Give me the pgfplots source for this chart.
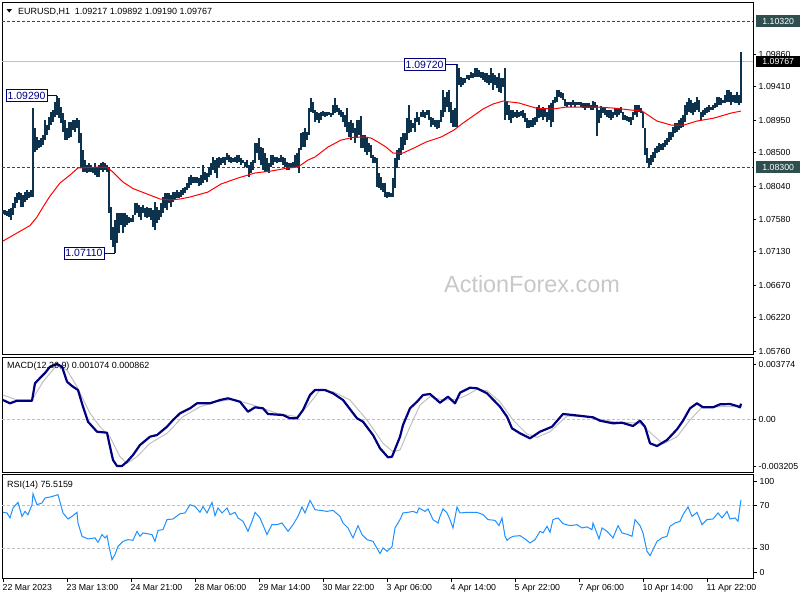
\documentclass[border=0pt]{standalone}
\usepackage{pgfplots}
\pgfplotsset{compat=1.18}
\usepackage{pgfplotstable}
\usepackage{fontspec}
\setmainfont{Liberation Sans}

\definecolor{barcol}{RGB}{12,50,78}
\definecolor{slate}{RGB}{47,79,79}
\definecolor{navyc}{RGB}{0,0,128}
\definecolor{silverc}{RGB}{192,192,192}
\definecolor{rsicol}{RGB}{30,144,255}
\definecolor{wmark}{RGB}{200,200,200}

% EURUSD H1 bars: high and low of each hour, oldest first
\pgfplotstableread{
hi lo
1.07709 1.07653
1.07709 1.07640
1.07695 1.07626
1.07722 1.07612
1.07736 1.07570
1.07805 1.07640
1.07888 1.07736
1.07943 1.07805
1.07957 1.07847
1.07943 1.07750
1.07916 1.07750
1.07957 1.07819
1.07985 1.07847
1.07957 1.07874
1.07985 1.07888
1.09117 1.07888
1.08841 1.08510
1.08717 1.08537
1.08675 1.08565
1.08703 1.08579
1.08745 1.08606
1.08952 1.08675
1.08883 1.08745
1.08993 1.08814
1.09062 1.08883
1.09090 1.08924
1.09200 1.08993
1.09290 1.09021
1.09256 1.08979
1.09131 1.08910
1.09048 1.08786
1.08952 1.08675
1.08841 1.08675
1.08924 1.08703
1.08924 1.08717
1.08952 1.08814
1.08952 1.08786
1.08979 1.08841
1.08952 1.08634
1.08772 1.08289
1.08537 1.08233
1.08399 1.08233
1.08330 1.08220
1.08358 1.08233
1.08330 1.08233
1.08303 1.08220
1.08358 1.08192
1.08303 1.08164
1.08330 1.08164
1.08358 1.08261
1.08372 1.08233
1.08358 1.08261
1.08330 1.08233
1.08303 1.07667
1.07750 1.07294
1.07474 1.07197
1.07570 1.07110
1.07667 1.07253
1.07667 1.07391
1.07667 1.07501
1.07667 1.07391
1.07667 1.07474
1.07640 1.07501
1.07612 1.07529
1.07598 1.07543
1.07640 1.07543
1.07805 1.07640
1.07805 1.07667
1.07778 1.07612
1.07750 1.07570
1.07778 1.07667
1.07736 1.07612
1.07750 1.07598
1.07736 1.07612
1.07736 1.07570
1.07709 1.07474
1.07819 1.07432
1.07750 1.07529
1.07709 1.07570
1.07805 1.07612
1.07888 1.07667
1.07943 1.07736
1.07943 1.07709
1.07943 1.07805
1.07916 1.07750
1.07957 1.07819
1.07957 1.07847
1.07985 1.07874
1.07957 1.07874
1.07985 1.07888
1.08012 1.07916
1.08026 1.07943
1.08082 1.07985
1.08164 1.08012
1.08192 1.08054
1.08164 1.08082
1.08164 1.08082
1.08164 1.08082
1.08151 1.08040
1.08192 1.08054
1.08330 1.08082
1.08233 1.08123
1.08220 1.08095
1.08303 1.08164
1.08358 1.08192
1.08441 1.08261
1.08399 1.08220
1.08427 1.08151
1.08441 1.08303
1.08427 1.08330
1.08441 1.08358
1.08441 1.08330
1.08496 1.08399
1.08468 1.08372
1.08441 1.08358
1.08427 1.08372
1.08441 1.08372
1.08468 1.08358
1.08468 1.08372
1.08427 1.08330
1.08399 1.08358
1.08372 1.08303
1.08399 1.08289
1.08330 1.08164
1.08372 1.08220
1.08399 1.08261
1.08634 1.08358
1.08634 1.08496
1.08703 1.08399
1.08579 1.08330
1.08565 1.08261
1.08496 1.08233
1.08427 1.08233
1.08358 1.08220
1.08468 1.08303
1.08468 1.08330
1.08441 1.08372
1.08441 1.08358
1.08427 1.08372
1.08468 1.08372
1.08441 1.08330
1.08427 1.08303
1.08372 1.08261
1.08358 1.08261
1.08358 1.08289
1.08372 1.08289
1.08468 1.08303
1.08496 1.08303
1.08565 1.08220
1.08772 1.08537
1.08786 1.08579
1.08841 1.08579
1.08786 1.08675
1.09117 1.08745
1.09256 1.09062
1.09200 1.09048
1.09090 1.08924
1.09062 1.08952
1.09048 1.08910
1.09062 1.08952
1.09076 1.09007
1.09062 1.08993
1.09062 1.09007
1.09062 1.09021
1.09048 1.08993
1.09159 1.09021
1.09256 1.09048
1.09159 1.09062
1.09117 1.09021
1.09090 1.08993
1.09062 1.08924
1.09021 1.08855
1.09117 1.08786
1.08924 1.08717
1.08952 1.08675
1.08910 1.08772
1.08841 1.08634
1.08952 1.08703
1.08952 1.08745
1.09007 1.08565
1.08745 1.08565
1.08745 1.08510
1.08717 1.08468
1.08634 1.08510
1.08606 1.08427
1.08468 1.08358
1.08441 1.08358
1.08427 1.08026
1.08220 1.08012
1.08164 1.07985
1.08082 1.07957
1.08082 1.07888
1.07957 1.07874
1.07957 1.07888
1.07943 1.07888
1.08151 1.07888
1.08427 1.08012
1.08537 1.08289
1.08565 1.08399
1.08717 1.08468
1.08772 1.08537
1.08772 1.08606
1.08979 1.08675
1.09159 1.08772
1.08952 1.08786
1.08910 1.08841
1.08979 1.08786
1.09062 1.08924
1.08993 1.08883
1.09062 1.08993
1.09090 1.08993
1.09062 1.08979
1.09090 1.09021
1.09090 1.08952
1.08993 1.08855
1.08979 1.08883
1.08952 1.08855
1.08952 1.08827
1.08952 1.08841
1.09090 1.08924
1.09366 1.08993
1.09269 1.09062
1.09339 1.09131
1.09366 1.09062
1.09200 1.08910
1.09090 1.08855
1.09117 1.08855
1.09720 1.08855
1.09670 1.09435
1.09546 1.09408
1.09532 1.09435
1.09532 1.09463
1.09574 1.09518
1.09574 1.09504
1.09615 1.09532
1.09601 1.09532
1.09670 1.09546
1.09670 1.09546
1.09643 1.09546
1.09615 1.09532
1.09615 1.09504
1.09601 1.09477
1.09601 1.09463
1.09574 1.09435
1.09670 1.09463
1.09601 1.09366
1.09574 1.09435
1.09546 1.09394
1.09601 1.09339
1.09532 1.09325
1.09532 1.09408
1.09670 1.08952
1.09200 1.09021
1.09159 1.08952
1.09090 1.08910
1.09090 1.08979
1.09062 1.08993
1.09090 1.08979
1.09062 1.08993
1.09076 1.09007
1.09090 1.08979
1.09048 1.08924
1.08979 1.08841
1.08952 1.08841
1.08952 1.08855
1.08979 1.08855
1.08993 1.08883
1.09131 1.08924
1.09159 1.08979
1.09117 1.08993
1.09131 1.08952
1.09117 1.08993
1.09062 1.08924
1.09159 1.08952
1.09187 1.08855
1.09228 1.08924
1.09269 1.09187
1.09366 1.09200
1.09366 1.09269
1.09339 1.09256
1.09325 1.09228
1.09242 1.09145
1.09200 1.09131
1.09200 1.09159
1.09200 1.09131
1.09228 1.09159
1.09200 1.09131
1.09200 1.09159
1.09200 1.09159
1.09200 1.09131
1.09187 1.09117
1.09187 1.09090
1.09187 1.09117
1.09187 1.09117
1.09159 1.09090
1.09214 1.09090
1.09200 1.09117
1.09159 1.08731
1.09090 1.08910
1.09145 1.08979
1.09131 1.09048
1.09117 1.09021
1.09090 1.08993
1.09090 1.08979
1.09090 1.08952
1.09062 1.08979
1.09117 1.09021
1.09117 1.08993
1.09117 1.09021
1.09131 1.09048
1.09062 1.08952
1.09021 1.08952
1.09007 1.08938
1.08993 1.08924
1.08993 1.08883
1.09062 1.08952
1.09159 1.09021
1.09159 1.08993
1.09159 1.09062
1.09117 1.09048
1.09062 1.08841
1.08841 1.08468
1.08565 1.08358
1.08427 1.08289
1.08468 1.08330
1.08510 1.08372
1.08565 1.08427
1.08593 1.08496
1.08634 1.08510
1.08620 1.08537
1.08634 1.08537
1.08675 1.08579
1.08703 1.08606
1.08786 1.08648
1.08786 1.08675
1.08855 1.08717
1.08910 1.08772
1.08910 1.08786
1.08952 1.08814
1.08979 1.08841
1.09021 1.08855
1.09159 1.08924
1.09200 1.09021
1.09256 1.09062
1.09228 1.09048
1.09187 1.09021
1.09200 1.09062
1.09269 1.09090
1.09228 1.09062
1.09062 1.08952
1.09090 1.08993
1.09117 1.09021
1.09131 1.09048
1.09159 1.09062
1.09131 1.09090
1.09159 1.09090
1.09187 1.09117
1.09269 1.09131
1.09269 1.09159
1.09256 1.09159
1.09228 1.09187
1.09297 1.09187
1.09366 1.09200
1.09366 1.09200
1.09339 1.09159
1.09297 1.09200
1.09297 1.09187
1.09339 1.09187
1.09297 1.09159
1.09892 1.09190
}\bars

\begin{document}
\begin{tikzpicture}[font=\fontsize{9}{10.5}\selectfont]
\useasboundingbox (0,0) rectangle (800bp,-600bp);
\pgfplotsset{panel/.style={
    scale only axis, width=751bp, xmin=-0.5, xmax=375,
    axis line style={black, line width=0.9bp},
    tick align=outside, major tick length=3bp,
    tick style={black, line width=0.8bp},
    ytick pos=right, xtick=\empty, scaled y ticks=false,
    tick label style={font=\fontsize{8.8}{10}\selectfont},
    yticklabel style={inner sep=2.5bp},
    clip=true}}

% price panel
\begin{axis}[panel, at={(2bp,-2bp)}, anchor=north west, height=352bp,
    ymin=1.05719, ymax=1.10583,
    ytick={1.0986,1.0941,1.0895,1.0850,1.0804,1.0758,1.0713,1.0667,1.0622,1.0576},
    yticklabels={1.09860,1.09410,1.08950,1.08500,1.08040,1.07580,1.07130,1.06670,1.06220,1.05760}]
  \node[text=wmark, font=\fontsize{23.5}{26}\selectfont] at (axis cs:264.5,1.06685) {ActionForex.com};
  \draw[slate, line width=0.8bp, dash pattern=on 3bp off 2bp] (axis cs:-0.5,1.1032) -- (axis cs:375,1.1032);
  \draw[slate, line width=0.8bp, dash pattern=on 3bp off 2bp] (axis cs:-0.5,1.0830) -- (axis cs:375,1.0830);
  \draw[silverc, line width=0.8bp] (axis cs:-0.5,1.09767) -- (axis cs:375,1.09767);
  % each bar is a vertical stroke from the low up to the high
  \addplot[draw=none, mark=none,
      error bars/.cd, y dir=plus, y explicit, error mark=none,
      error bar style={draw=barcol, line width=1.05bp}]
    table[x expr=\coordindex, y=lo, y error plus expr=\thisrow{hi}-\thisrow{lo}] {\bars};
  % moving average
  \addplot[red, line width=1bp] coordinates {
    (0,1.07280) (7,1.07391) (13.5,1.07494) (17,1.07612) (20,1.07750) (23.5,1.07902)
    (28.5,1.08082) (33.5,1.08192) (37.5,1.08289) (48.5,1.08303) (52,1.08296) (55,1.08233)
    (60,1.08095) (65,1.08005) (72,1.07930) (78.5,1.07861) (83.5,1.07847) (88.5,1.07861)
    (93.5,1.07888) (102.5,1.07957) (109,1.08068) (117.5,1.08151) (126,1.08220) (134,1.08247)
    (142.5,1.08289) (147.5,1.08303) (152.5,1.08399) (156,1.08441) (162.5,1.08579) (169,1.08675)
    (176,1.08717) (181,1.08717) (184,1.08703) (187.5,1.08648) (191.5,1.08579) (195,1.08496)
    (200,1.08496) (206.5,1.08579) (211.5,1.08648) (219,1.08717) (225.5,1.08814) (230,1.08910)
    (235,1.09007) (240,1.09104) (245,1.09173) (250,1.09214) (258,1.09187) (266.5,1.09117)
    (275,1.09104) (281.5,1.09131) (297,1.09131) (305.5,1.09117) (314,1.09090) (319.5,1.09076)
    (324,1.08993) (327,1.08938) (334,1.08883) (340.5,1.08883) (347,1.08938) (355.5,1.08979)
    (364,1.09048) (369,1.09076)};
  % swing high / low tags
  \draw[navyc, line width=0.8bp] (axis cs:22,1.0929) -- (axis cs:27,1.0929);
  \node[draw=navyc, fill=white, text=navyc, anchor=east, inner sep=1.3bp, minimum height=12bp,
        font=\fontsize{10.5}{12}\selectfont] at (axis cs:22,1.0929) {1.09290};
  \draw[navyc, line width=0.8bp] (axis cs:50.5,1.0711) -- (axis cs:56,1.0711);
  \node[draw=navyc, fill=white, text=navyc, anchor=east, inner sep=1.3bp, minimum height=12bp,
        font=\fontsize{10.5}{12}\selectfont] at (axis cs:50.5,1.0711) {1.07110};
  \draw[navyc, line width=0.8bp] (axis cs:221,1.0972) -- (axis cs:227,1.0972);
  \node[draw=navyc, fill=white, text=navyc, anchor=east, inner sep=1.3bp, minimum height=12bp,
        font=\fontsize{10.5}{12}\selectfont] at (axis cs:221,1.0972) {1.09720};
\end{axis}

% MACD panel
\begin{axis}[panel, at={(2bp,-357bp)}, anchor=north west, height=115bp,
    ymin=-0.003618, ymax=0.004278,
    ytick={0.003774,0,-0.003205}, yticklabels={0.003774,0.00,-0.003205}]
  \draw[silverc, line width=0.8bp, dash pattern=on 3bp off 2bp] (axis cs:-0.5,0) -- (axis cs:375,0);
  \addplot[silverc, line width=1bp] coordinates {
    (0,0.001668) (7,0.001325) (14.5,0.001325) (20,0.002582) (27,0.003728) (32,0.003385)
    (37,0.002238) (43.5,0.000412) (48.5,-0.000508) (53.5,-0.001195) (58.5,-0.002568) (62,-0.003021)
    (67,-0.002568) (73.5,-0.001648) (82,-0.000961) (90,0.000179) (98.5,0.000865) (107,0.001208)
    (115,0.001373) (125,0.000982) (137,0.000412) (147,0.000179) (152,0.000865) (158.5,0.002012)
    (165,0.001895) (173.5,0.001325) (182,-0.000048) (190,-0.001648) (195,-0.002225) (198.5,-0.002108)
    (203.5,-0.000508) (208.5,0.000982) (213.5,0.001552) (220,0.001325) (227,0.001373) (232,0.001668)
    (237,0.002060) (242,0.001964) (248.5,0.001208) (255,-0.000048) (262,-0.001009) (267,-0.001236)
    (273.5,-0.000851) (282,0.000227) (292,0.000179) (305,-0.000165) (318.5,-0.000275) (325,-0.001078)
    (330,-0.001696) (337,-0.001195) (343.5,-0.000048) (349.5,0.000824) (358.5,0.000865) (369,0.000862)};
  \addplot[navyc, line width=2.2bp, line join=round] coordinates {
    (0,0.001325) (3.5,0.001099) (7,0.001277) (14.5,0.001277) (16,0.002472) (18.5,0.002836)
    (21,0.003179) (23.5,0.003612) (27,0.003797) (29.5,0.003612) (32,0.002582) (34.5,0.002286)
    (37.5,0.002012) (40,0.000865) (42.5,-0.000165) (47,-0.000851) (52,-0.000920) (53.5,-0.001881)
    (55,-0.002794) (57,-0.003206) (59.5,-0.003206) (62,-0.002911) (65,-0.002451) (68.5,-0.001765)
    (73.5,-0.001195) (77,-0.001078) (82,-0.000508) (85,-0.000048) (88.5,0.000412) (93.5,0.000755)
    (97,0.001099) (103.5,0.001099) (108.5,0.001325) (112.5,0.001442) (118.5,0.001208) (122.5,0.000522)
    (126,0.000824) (130,0.000755) (132.5,0.000364) (140,0.000295) (143.5,0.000069) (147,0.000069)
    (150,0.000639) (153.5,0.001668) (156,0.002012) (161,0.002012) (165,0.001785) (170,0.001325)
    (177,0.000069) (180,-0.000165) (185,-0.001078) (188.5,-0.001991) (192.5,-0.002609) (194.5,-0.002568)
    (198.5,-0.001195) (200,-0.000391) (203.5,0.000755) (207,0.001208) (210,0.001668) (213.5,0.001737)
    (218.5,0.001140) (222.5,0.001552) (226,0.001099) (228.5,0.001826) (233.5,0.002170) (237,0.002128)
    (242,0.001785) (248.5,0.000865) (252,0.000179) (254.5,-0.000618) (258.5,-0.000961) (263.5,-0.001305)
    (268.5,-0.000851) (274.5,-0.000508) (280,0.000364) (285,0.000295) (295,0.000137) (298.5,-0.000096)
    (305,-0.000275) (309.5,-0.000233) (315,-0.000460) (318.5,-0.000096) (321,-0.000508) (323.5,-0.001648)
    (327,-0.001833) (332,-0.001421) (337,-0.000687) (340,-0.000096) (343.5,0.000755) (347,0.001099)
    (350,0.000824) (355,0.000824) (358.5,0.001030) (363.5,0.001050) (367,0.000913) (368.5,0.000824)
    (369,0.001074)};
\end{axis}

% RSI panel
\begin{axis}[panel, at={(2bp,-474bp)}, anchor=north west, height=104bp,
    ymin=1.5, ymax=100,
    ytick={93,70,30,7}, yticklabels={100,70,30,0},
    xtick={0,32,...,352}, xtick pos=bottom, major tick length=4bp,
    xticklabels={22 Mar 2023,23 Mar 13:00,24 Mar 21:00,28 Mar 06:00,29 Mar 14:00,30 Mar 22:00,
      3 Apr 06:00,4 Apr 14:00,5 Apr 22:00,7 Apr 06:00,10 Apr 14:00,11 Apr 22:00},
    xticklabel style={anchor=north west, xshift=-2.5bp, inner sep=2bp}]
  \draw[silverc, line width=0.8bp, dash pattern=on 3bp off 2bp] (axis cs:-0.5,70) -- (axis cs:375,70);
  \draw[silverc, line width=0.8bp, dash pattern=on 3bp off 2bp] (axis cs:-0.5,30) -- (axis cs:375,30);
  \addplot[rsicol, line width=1bp] coordinates {
    (0,63.7) (2,63.1) (3.5,58.4) (5,67.8) (7.5,73.1) (9.5,59.9) (11,64.6) (12.5,61.5) (14.5,70.9)
    (15,81.3) (17,70.9) (19.5,72.6) (21,77.3) (23.5,78.2) (26,79.5) (27.5,80.4) (30,63.1) (32.5,57.4)
    (34.5,59.9) (37,63.7) (37.5,53.6) (39.5,41) (42.5,38.5) (46,39.5) (47.5,35.3) (49.5,42.6) (51,39.5)
    (52,41.6) (53,31.5) (54.5,18.9) (56,23.7) (57.5,31.5) (60,36.2) (62.5,37.8) (65,37.2) (67,45.7)
    (68.5,41) (70,44.2) (72,43.5) (74.5,42.6) (76,36.2) (77.5,46.6) (80,47.3) (82,56.8) (85,57.4)
    (88.5,62.4) (91,63.1) (93.5,70.9) (96,69.3) (98.5,63.7) (100,69.3) (102,63.1) (104.5,73.1)
    (106,60.5) (107.5,67.8) (109.5,63.1) (112,67.8) (113.5,61.5) (116,63.7) (117.5,58.4) (120,55.2)
    (122.5,45.7) (124.5,55.2) (126,63.7) (128.5,58.4) (132,42.6) (134.5,52.2) (137,52) (139.5,53.6)
    (142.5,45.7) (145,52) (147.5,59.9) (149.5,68.8) (151,63.1) (153.5,75) (156,66.2) (158.5,65.6)
    (162,64.6) (165,65.6) (168.5,59.9) (170,53.6) (172.5,48.9) (175,39.5) (177.5,51.1) (179.5,42.6)
    (182,37.8) (185,36.2) (188.5,24.6) (190,30) (192,26.8) (194.5,31) (196,48.9) (198.5,56.8)
    (200,63.1) (202.5,63.7) (205,64.6) (207,63.1) (208,67.8) (211,64.6) (212.5,66.9) (215,56.8)
    (217.5,53.6) (218.5,59.9) (220,66.9) (222,63.1) (223.5,56.8) (225,48.9) (227,68.8) (228.5,63.1)
    (232,63.7) (237,63.7) (240,61.5) (242.5,56.8) (246,56.1) (248,51.1) (249.5,58.4) (251,41)
    (252,37.2) (253.5,39.5) (255,41) (258.5,41.6) (261,38.5) (263.5,34.7) (266,37.8) (268.5,45.7)
    (270,44.2) (272,50.4) (273.5,44.8) (275,56.8) (277.5,58.4) (280,53) (283.5,51.1) (287,52)
    (289.5,48.9) (292,49.9) (294.5,47.3) (295,53.6) (298,38.5) (299.5,48.9) (302,45.7) (305,39.5)
    (307.5,51.1) (309.5,44.2) (312.5,42.6) (314.5,41) (316,56.8) (318.5,51.1) (320,44.2) (322,26.8)
    (323.5,22.7) (325,28.4) (327,36.2) (329.5,39.5) (332,41) (333.5,50.4) (336,53.6) (338.5,55.2)
    (340,61.5) (342.5,68.8) (344.5,59.9) (347,63.7) (349.5,52) (352,56.8) (355,57.4) (357.5,63.1)
    (359.5,58.4) (362,64.6) (363.5,57.4) (366,58.4) (367.5,55.2) (368.5,69.3) (369,75.5159)};
\end{axis}

% panel captions
\fill (6.5bp,-9bp) -- (12bp,-9bp) -- (9.25bp,-12.5bp) -- cycle;
\node[anchor=base west, inner sep=0] at (18bp,-14bp) {EURUSD,H1\ \ 1.09217 1.09892 1.09190 1.09767};
\node[anchor=base west, inner sep=0] at (7bp,-368.5bp) {MACD(12,26,9) 0.001074 0.000862};
\node[anchor=base west, inner sep=0] at (7bp,-487.5bp) {RSI(14) 75.5159};

% price-scale tags
\node[fill=slate, text=white, anchor=west, minimum height=12bp, minimum width=44bp, inner sep=1bp,
      font=\fontsize{8.8}{10}\selectfont] at (756bp,-21bp) {1.10320};
\node[fill=black, text=white, anchor=west, minimum height=11bp, minimum width=44bp, inner sep=1bp,
      font=\fontsize{8.8}{10}\selectfont] at (756bp,-61.5bp) {1.09767};
\node[fill=slate, text=white, anchor=west, minimum height=12bp, minimum width=44bp, inner sep=1bp,
      font=\fontsize{8.8}{10}\selectfont] at (756bp,-167bp) {1.08300};
\end{tikzpicture}
\end{document}
